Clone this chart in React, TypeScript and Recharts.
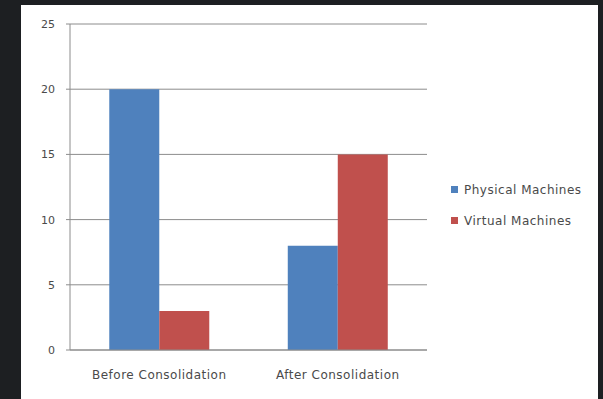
import React from 'react';
import { BarChart, Bar, XAxis, YAxis, CartesianGrid, Legend } from 'recharts';

const categories = ['Before Consolidation', 'After Consolidation'];
const physicalMachines = [20, 8];
const virtualMachines = [3, 15];
const yTicks = [0, 5, 10, 15, 20, 25];

const data = categories.map((name, i) => ({
  name,
  idx: i + 0.5,
  physical: physicalMachines[i],
  virtual: virtualMachines[i],
}));

const FONT = '"DejaVu Sans", "Open Sans", sans-serif';

const renderLegend = (props: any) => {
  const { payload } = props;
  return (
    <div style={{ fontFamily: FONT, fontSize: 12, letterSpacing: 0.5, color: '#4a4a4a', paddingTop: 6 }}>
      {payload.map((entry: any) => (
        <div key={entry.value} style={{ display: 'flex', alignItems: 'center', height: 31 }}>
          <span style={{ display: 'inline-block', width: 7, height: 7, background: entry.color, marginRight: 6 }} />
          <span>{entry.value}</span>
        </div>
      ))}
    </div>
  );
};

const App: React.FC = () => {
  return (
    <div style={{ position: 'fixed', top: 0, left: 0, width: 603, height: 399, background: '#1d1f22', overflow: 'hidden' }}>
      <div style={{ position: 'absolute', left: 21, top: 5, width: 577, height: 394, background: '#ffffff' }}>
        <BarChart
          width={577}
          height={394}
          data={data}
          margin={{ top: 19, right: 21, left: 0, bottom: 0 }}
          barGap={0}
          barCategoryGap="22%"
          style={{ fontFamily: FONT }}
        >
          <CartesianGrid vertical={false} stroke="#8c8c8c" />
          <XAxis
            xAxisId="cat"
            dataKey="name"
            tickLine={false}
            tickSize={0}
            tickMargin={20}
            axisLine={{ stroke: '#8c8c8c' }}
            tick={{ fill: '#4a4a4a', fontSize: 12, letterSpacing: 0.5 }}
            height={49}
          />
          <XAxis
            xAxisId="bounds"
            type="number"
            dataKey="idx"
            domain={[0, 2]}
            ticks={[0, 1, 2]}
            tick={false}
            axisLine={false}
            tickLine={{ stroke: '#8c8c8c' }}
            tickSize={4}
            height={0}
          />
          <YAxis
            domain={[0, 25]}
            ticks={yTicks}
            width={49}
            tickSize={4}
            tickMargin={11}
            axisLine={{ stroke: '#8c8c8c' }}
            tickLine={{ stroke: '#8c8c8c' }}
            tick={{ fill: '#4a4a4a', fontSize: 11 }}
          />
          <Legend
            layout="vertical"
            align="right"
            verticalAlign="middle"
            width={150}
            content={renderLegend}
            wrapperStyle={{ left: 430 }}
          />
          <Bar xAxisId="cat" dataKey="physical" name="Physical Machines" fill="#4f81bd" isAnimationActive={false} />
          <Bar xAxisId="cat" dataKey="virtual" name="Virtual Machines" fill="#c0504d" isAnimationActive={false} />
        </BarChart>
      </div>
    </div>
  );
};

export default App;
